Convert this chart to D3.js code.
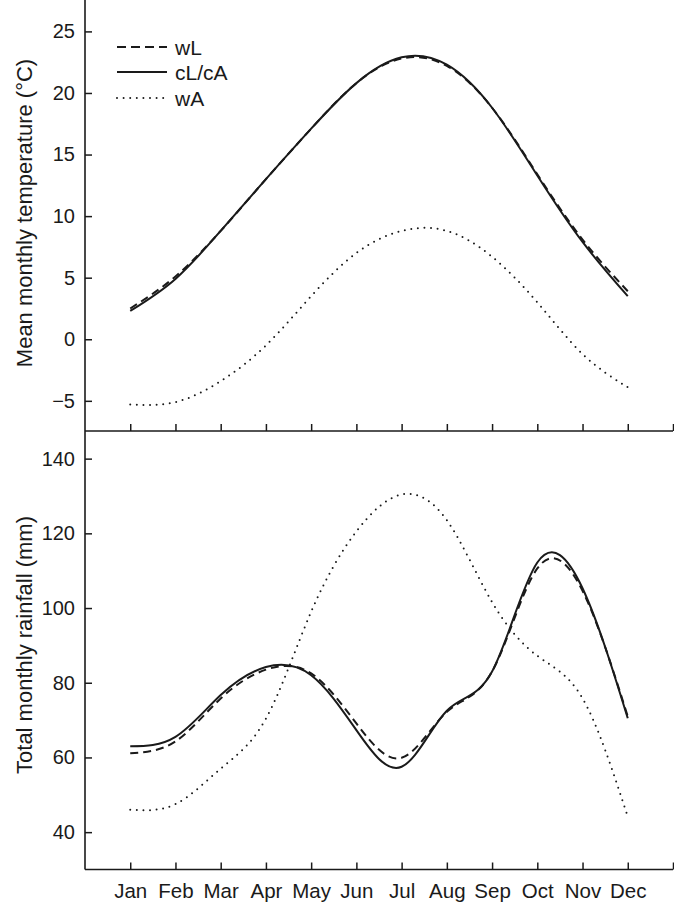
<!DOCTYPE html>
<html>
<head>
<meta charset="utf-8">
<script src="https://cdn.jsdelivr.net/npm/d3@7"></script>
<style>
  html, body { margin: 0; padding: 0; background: #fff; }
  svg { display: block; }
  text { font-family: "Liberation Sans", Arial, Helvetica, sans-serif; fill: #1a1a1a; }
</style>
</head>
<body>
<svg id="chart" width="674" height="903"></svg>
<script>
// ---- data ----
const months = ["Jan","Feb","Mar","Apr","May","Jun","Jul","Aug","Sep","Oct","Nov","Dec"];
const monthIndex = [1,2,3,4,5,6,7,8,9,10,11,12];
const seriesNames = ["wL", "cL/cA", "wA"];

const tempWL = [2.5, 5.1, 8.8, 13.0, 17.1, 20.8, 22.8, 22.2, 18.8, 13.4, 8.1, 3.9];
const tempCL = [2.3, 4.9, 8.8, 13.0, 17.1, 20.8, 22.9, 22.3, 18.8, 13.3, 7.9, 3.5];
const tempWA = [-5.3, -5.1, -3.4, -0.5, 3.5, 7.0, 8.8, 8.8, 6.7, 3.0, -1.2, -3.9];

const rainWL = [61.1, 64.3, 75.8, 83.5, 82.5, 69.1, 59.9, 72.2, 83.0, 110.6, 104.6, 71.0];
const rainCL = [63.0, 65.5, 76.7, 84.2, 82.0, 67.3, 57.5, 72.5, 83.0, 112.2, 105.3, 70.5];
const rainWA = [46.0, 47.5, 57.0, 70.4, 99.0, 120.5, 130.4, 123.5, 101.6, 87.2, 75.8, 44.1];

const tempTicks = [-5, 0, 5, 10, 15, 20, 25];
const rainTicks = [40, 60, 80, 100, 120, 140];

// ---- layout ----
const svg = d3.select("#chart");
const left = 85, right = 673;
const topPanel = { top: 0, bottom: 431 };
const botPanel = { top: 431, bottom: 869.5 };
const ink = "#1a1a1a";

const x = d3.scaleLinear().domain([0, 13]).range([left, right]);
const yT = d3.scaleLinear().domain([-7.45, 27.55]).range([topPanel.bottom, topPanel.top]);
const yR = d3.scaleLinear().domain([30, 147.4]).range([botPanel.bottom, botPanel.top]);

const styles = {
  "wL":    { dash: "8,5", cap: "butt", width: 2 },
  "cL/cA": { dash: null, cap: "butt", width: 2 },
  "wA":    { dash: "0,6.6", cap: "round", width: 2 }
};

function drawPanel(yScale, ticks, series, panel, showLabels, title, titleY) {
  // y axis
  const yAxis = d3.axisLeft(yScale).tickValues(ticks).tickSize(-7).tickPadding(10)
    .tickFormat(d => d < 0 ? "\u2212" + Math.abs(d) : d);
  const gy = svg.append("g").attr("transform", `translate(${left},0)`).call(yAxis);
  gy.select(".domain").remove();
  gy.selectAll("line").attr("stroke", ink).attr("stroke-width", 1.5);
  gy.selectAll("text").style("font-size", "20px").attr("fill", ink);
  svg.append("line").attr("x1", left).attr("x2", left)
    .attr("y1", panel.top).attr("y2", panel.bottom)
    .attr("stroke", ink).attr("stroke-width", 1.6);

  // x axis
  const xAxis = d3.axisBottom(x).tickValues(monthIndex.concat([13])).tickSize(-7)
    .tickPadding(14)
    .tickFormat(d => showLabels && d <= 12 ? months[d - 1] : "");
  const gx = svg.append("g").attr("transform", `translate(0,${panel.bottom})`).call(xAxis);
  gx.select(".domain").remove();
  gx.selectAll("line").attr("stroke", ink).attr("stroke-width", 1.5);
  gx.selectAll("text").style("font-size", "20.5px").attr("fill", ink);
  svg.append("line").attr("x1", left).attr("x2", right)
    .attr("y1", panel.bottom).attr("y2", panel.bottom)
    .attr("stroke", ink).attr("stroke-width", 1.6);

  // lines
  const line = d3.line()
    .x((d, i) => x(monthIndex[i]))
    .y(d => yScale(d))
    .curve(d3.curveNatural);
  series.forEach(s => {
    const st = styles[s.name];
    svg.append("path")
      .attr("d", line(s.values))
      .attr("fill", "none")
      .attr("stroke", ink)
      .attr("stroke-width", st.width)
      .attr("stroke-linecap", st.cap)
      .attr("stroke-dasharray", st.dash);
  });

  // axis title
  svg.append("text")
    .attr("transform", `translate(31.5,${titleY}) rotate(-90)`)
    .attr("text-anchor", "middle")
    .style("font-size", "22px")
    .text(title);
}

drawPanel(yT, tempTicks, [
  { name: "wA", values: tempWA },
  { name: "wL", values: tempWL },
  { name: "cL/cA", values: tempCL }
], topPanel, false, "Mean monthly temperature (\u00B0C)", 213);

drawPanel(yR, rainTicks, [
  { name: "wA", values: rainWA },
  { name: "wL", values: rainWL },
  { name: "cL/cA", values: rainCL }
], botPanel, true, "Total monthly rainfall (mm)", 645);

// legend
const legY = [47, 72, 98];
seriesNames.forEach((n, i) => {
  const st = styles[n];
  svg.append("line")
    .attr("x1", 117).attr("x2", 167)
    .attr("y1", legY[i]).attr("y2", legY[i])
    .attr("stroke", ink).attr("stroke-width", st.width)
    .attr("stroke-linecap", st.cap)
    .attr("stroke-dasharray", n === "wL" ? "9,5" : st.dash);
  svg.append("text")
    .attr("x", 175).attr("y", legY[i] + 7.5)
    .style("font-size", "21px")
    .text(n);
});
</script>
</body>
</html>
